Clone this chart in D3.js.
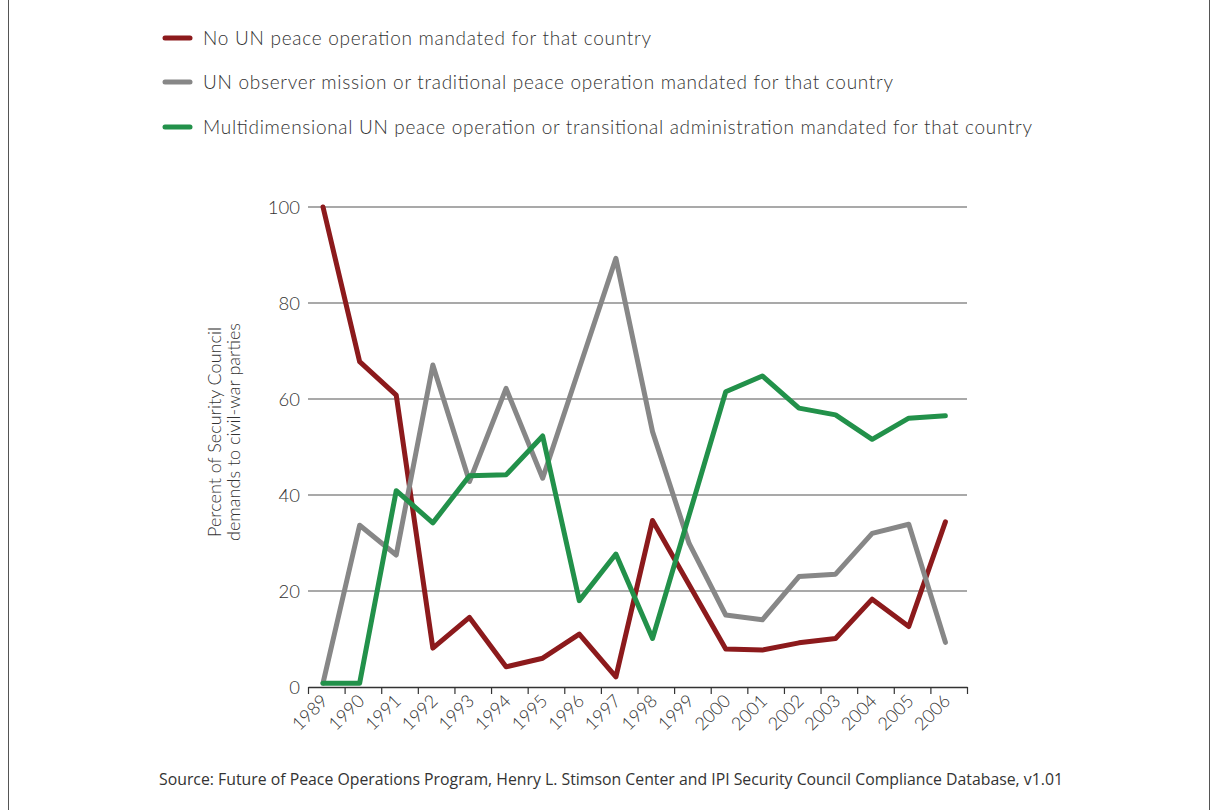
<!DOCTYPE html>
<html>
<head>
<meta charset="utf-8">
<script src="https://cdn.jsdelivr.net/npm/d3@7"></script>
<style>
body { margin: 0; background: #fff; }
svg { display: block; }
text { font-family: Lato, "Open Sans", sans-serif; font-weight: 300; fill: #333; }
</style>
</head>
<body>
<svg width="1218" height="810"></svg>
<script>
// years on the x axis
var years = [1989,1990,1991,1992,1993,1994,1995,1996,1997,1998,1999,2000,2001,2002,2003,2004,2005,2006];
// percent values, one per year
var noUN = [100,67.8,60.8,8.1,14.5,4.2,6.0,11.0,2.1,34.7,21.3,7.9,7.7,9.2,10.1,18.3,12.6,34.4];
var observer = [0.8,33.7,27.5,67.1,42.8,62.2,43.5,66.4,89.3,53.2,29.9,15.0,14.0,23.0,23.5,32.0,33.9,9.3];
var multi = [0.8,0.8,40.9,34.2,44.0,44.2,52.3,18.0,27.7,10.1,35.8,61.5,64.8,58.1,56.7,51.6,56.0,56.5];
var yTicks = [0,20,40,60,80,100];
var legendLabels = [
  "No UN peace operation mandated for that country",
  "UN observer mission or traditional peace operation mandated for that country",
  "Multidimensional UN peace operation or transitional administration mandated for that country"
];
var colors = ["#8c1a1c", "#878787", "#22914a"];
var series = [noUN, observer, multi];

var svg = d3.select('svg');

// frame
svg.append('line').attr('x1', 8.5).attr('x2', 8.5).attr('y1', 0).attr('y2', 810).attr('stroke', '#555');
svg.append('line').attr('x1', 1209.5).attr('x2', 1209.5).attr('y1', 0).attr('y2', 810).attr('stroke', '#555');

var xs = d3.scaleLinear().domain([1988.59, 2006.59]).range([308, 967]);
var ys = d3.scaleLinear().domain([0, 100]).range([687, 207]);

// grid lines
svg.append('g')
  .selectAll('line')
  .data(yTicks.filter(function(d) { return d > 0; }))
  .enter()
  .append('line')
  .attr('x1', 308).attr('x2', 967)
  .attr('y1', function(d) { return ys(d); })
  .attr('y2', function(d) { return ys(d); })
  .attr('stroke', '#555')
  .attr('stroke-width', 1.2);

// y labels
svg.append('g')
  .selectAll('text')
  .data(yTicks)
  .enter()
  .append('text')
  .attr('x', 300)
  .attr('y', function(d) { return ys(d) + 6.5; })
  .attr('text-anchor', 'end')
  .style('font-size', '18.5px')
  .text(function(d) { return d; });

// x axis
var xAxis = svg.append('g')
  .attr('transform', 'translate(0,687)')
  .call(d3.axisBottom(xs)
    .tickValues(d3.range(19).map(function(i) { return 1988.59 + i; }))
    .tickSize(7)
    .tickSizeOuter(0)
    .tickFormat(''));
xAxis.select('.domain').attr('stroke', '#333').attr('stroke-width', 1.5);
xAxis.selectAll('.tick line').attr('stroke', '#333').attr('stroke-width', 1.2);

svg.append('g')
  .selectAll('text')
  .data(years)
  .enter()
  .append('text')
  .attr('transform', function(d) { return 'translate(' + (xs(d) + 6) + ',702) rotate(-45)'; })
  .attr('text-anchor', 'end')
  .style('font-size', '18px')
  .style('fill', '#333')
  .text(function(d) { return d; });

// y title
var yt = svg.append('text')
  .attr('transform', 'translate(224,432) rotate(-90)')
  .attr('text-anchor', 'middle')
  .style('font-size', '18px');
yt.append('tspan').attr('x', 0).attr('dy', -3).text('Percent of Security Council');
yt.append('tspan').attr('x', 0).attr('dy', 19).text('demands to civil-war parties');

// lines
var line = d3.line()
  .x(function(d, i) { return xs(years[i]); })
  .y(function(d) { return ys(d); });

series.forEach(function(s, k) {
  svg.append('path')
    .datum(s)
    .attr('d', line)
    .attr('fill', 'none')
    .attr('stroke', colors[k])
    .attr('stroke-width', 5)
    .attr('stroke-linejoin', 'round')
    .attr('stroke-linecap', 'round');
});

// legend
var lg = svg.append('g')
  .selectAll('g')
  .data(legendLabels)
  .enter()
  .append('g')
  .attr('transform', function(d, i) { return 'translate(0,' + [38, 82, 127][i] + ')'; });
lg.append('line')
  .attr('x1', 165).attr('x2', 190)
  .attr('stroke', function(d, i) { return colors[i]; })
  .attr('stroke-width', 5)
  .attr('stroke-linecap', 'round');
lg.append('text')
  .attr('x', 203).attr('y', 6.5)
  .attr('textLength', function(d, i) { return [448, 690, 829][i]; })
  .attr('lengthAdjust', 'spacing')
  .style('font-size', '19px')
  .text(function(d) { return d; });

// source
svg.append('text')
  .attr('x', 159).attr('y', 785)
  .attr('textLength', 904)
  .attr('lengthAdjust', 'spacingAndGlyphs')
  .style('font-family', '"Liberation Sans Narrow", "Open Sans", sans-serif')
  .style('font-weight', 400)
  .style('font-size', '15.5px')
  .text('Source: Future of Peace Operations Program, Henry L. Stimson Center and IPI Security Council Compliance Database, v1.01');
</script>
</body>
</html>
